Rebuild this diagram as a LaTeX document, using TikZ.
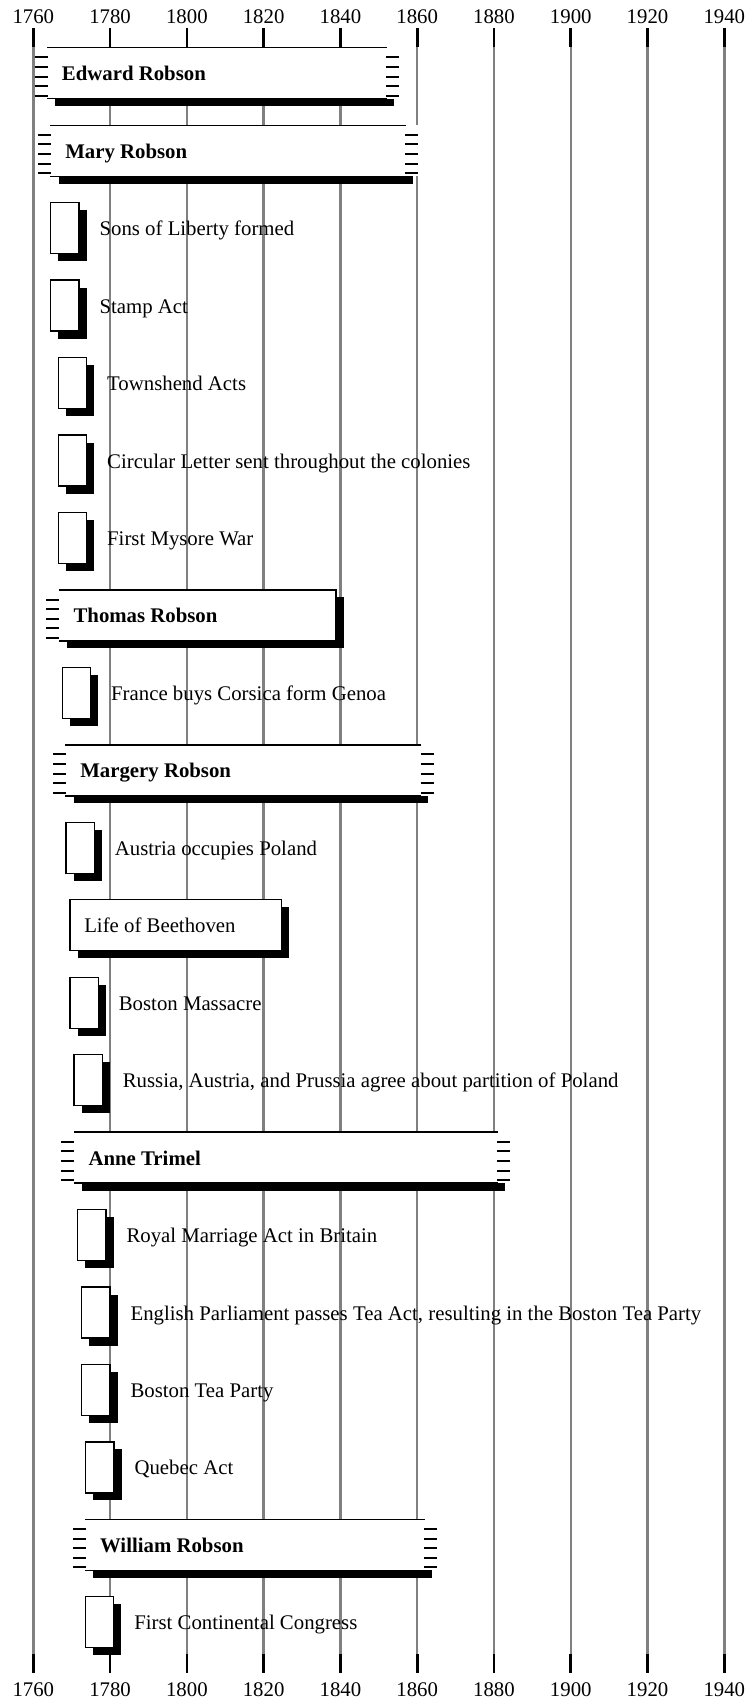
\documentclass[tikz,border=0pt]{standalone}
\usepackage{fontspec}
\setmainfont{Liberation Serif}
\newcommand{\person}[7]{%
  \pgfmathsetmacro\cy{73.3+77.45*#2}%
  \pgfmathsetmacro\tp{\cy-25.5}%
  \pgfmathsetmacro\bt{\cy+25.5}%
  \pgfmathsetmacro\wl{#3-13*#5}%
  \pgfmathsetmacro\wr{#4+13*#6}%
  \fill[black] (#3+7.5,\tp+7.5) rectangle (#4+7.5,\bt+7.5);
  \fill[white] (\wl,\tp) rectangle (\wr,\bt);
  \draw[boxline] (#3,\tp) -- (#4,\tp);
  \draw[boxline] (#3,\bt) -- (#4,\bt);
  \ifnum#5=1
    \foreach \j in {1,...,5}{\draw[fuzz] (#3-13,\tp+9.6*\j) -- (#3,\tp+9.6*\j);}
  \else
    \draw[boxline] (#3,\tp) -- (#3,\bt);
  \fi
  \ifnum#6=1
    \foreach \j in {1,...,5}{\draw[fuzz] (#4,\tp+9.6*\j) -- (#4+13,\tp+9.6*\j);}
  \else
    \draw[boxline] (#4,\tp) -- (#4,\bt);
  \fi
  \node[lbl, anchor=base west] (#1) at (#3+14,\cy+7.5) {#7};
}
\newcommand{\evt}[4]{%
  \pgfmathsetmacro\cy{73.3+77.45*#2}%
  \fill[black] (#3+7.5,\cy-18) rectangle (#3+35.8,\cy+33);
  \draw[boxline, fill=white] (#3,\cy-25.5) rectangle (#3+28.3,\cy+25.5);
  \node[lbl, anchor=base west] (#1) at (#3+48.6,\cy+7.5) {#4};
}
\begin{document}
\begin{tikzpicture}[x=0.75pt,y=-0.75pt,
  grid/.style={line width=1.8pt, draw=gray},
  tick/.style={line width=2pt, draw=black},
  boxline/.style={line width=1pt, draw=black, line cap=rect},
  fuzz/.style={line width=1.5pt, draw=black},
  lbl/.style={inner sep=0pt, font=\fontsize{15.6}{18}\selectfont},
  ]
\useasboundingbox (0,0) rectangle (748,1698);
\foreach \k/\yr in {0/1760,1/1780,2/1800,3/1820,4/1840,5/1860,6/1880,7/1900,8/1920,9/1940} {
  \pgfmathsetmacro\gx{33.3+76.78*\k}
  \draw[grid] (\gx,47) -- (\gx,1654);
  \draw[tick] (\gx,28) -- (\gx,47);
  \draw[tick] (\gx,1654) -- (\gx,1673);
  \node[lbl, anchor=base] (top\yr) at (\gx,24) {\yr};
  \node[lbl, anchor=base] (bot\yr) at (\gx,1696.5) {\yr};
}
\person{edward}{0}{47.7}{386}{1}{1}{\textbf{Edward Robson}}
\person{mary}{1}{51}{405}{1}{1}{\textbf{Mary Robson}}
\evt{sons}{2}{50.7}{Sons of Liberty formed}
\evt{stamp}{3}{50.7}{Stamp Act}
\evt{townshend}{4}{58.3}{Townshend Acts}
\evt{circular}{5}{58.3}{Circular Letter sent throughout the colonies}
\evt{mysore}{6}{58.3}{First Mysore War}
\person{thomas}{7}{59.3}{336}{1}{0}{\textbf{Thomas Robson}}
\evt{corsica}{8}{62.3}{France buys Corsica form Genoa}
\person{margery}{9}{66}{420.7}{1}{1}{\textbf{Margery Robson}}
\evt{austria}{10}{66}{Austria occupies Poland}
\person{beethoven}{11}{70}{281.7}{0}{0}{Life of Beethoven}
\evt{massacre}{12}{70}{Boston Massacre}
\evt{partition}{13}{74}{Russia, Austria, and Prussia agree about partition of Poland}
\person{anne}{14}{74.3}{497.3}{1}{1}{\textbf{Anne Trimel}}
\evt{royal}{15}{77.7}{Royal Marriage Act in Britain}
\evt{teaact}{16}{81.7}{English Parliament passes Tea Act, resulting in the Boston Tea Party}
\evt{teaparty}{17}{81.7}{Boston Tea Party}
\evt{quebec}{18}{85.7}{Quebec Act}
\person{william}{19}{85.8}{424}{1}{1}{\textbf{William Robson}}
\evt{congress}{20}{85.5}{First Continental Congress}
\end{tikzpicture}
\end{document}
